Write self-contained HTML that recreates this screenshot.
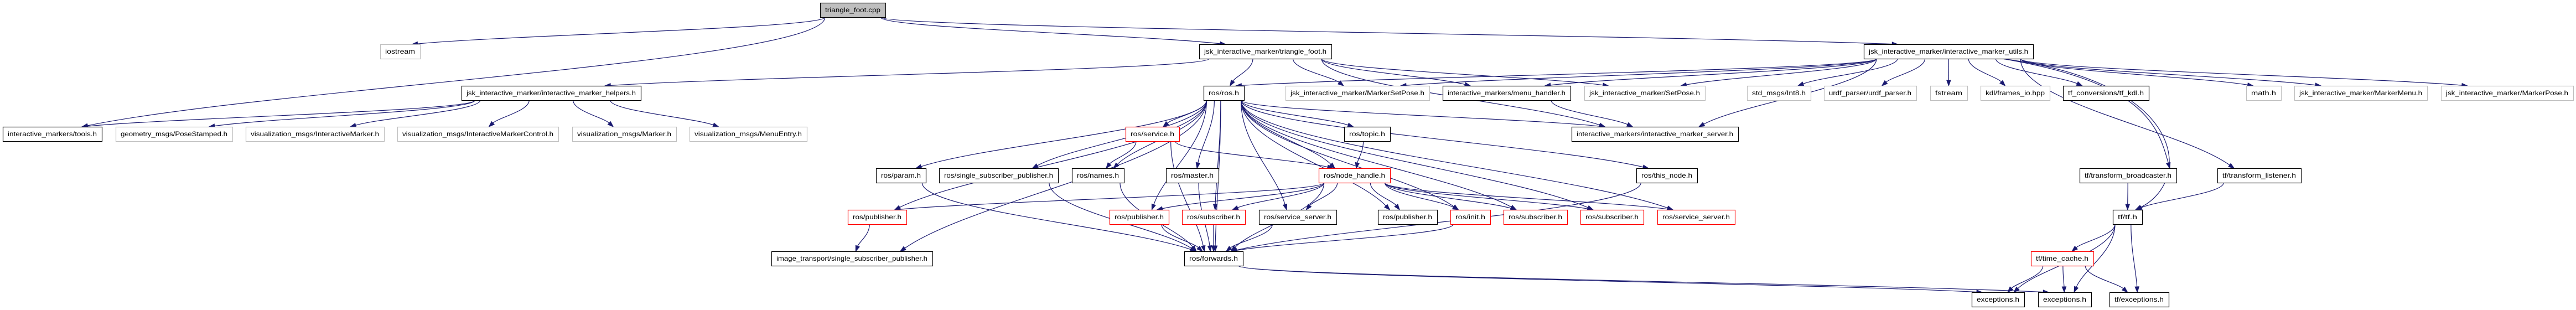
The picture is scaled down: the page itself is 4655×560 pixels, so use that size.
<!DOCTYPE html>
<html><head><meta charset="utf-8"><style>
html,body{margin:0;padding:0;background:#fff;}
svg{display:block;}
text{font-family:"Liberation Sans",Arial,sans-serif;font-size:12px;fill:#000;}
</style></head><body>
<svg id="g" width="4655" height="560" xmlns="http://www.w3.org/2000/svg">
<g id="edges" fill="none" stroke="#191970" stroke-width="1.2"></g>
<g id="heads" fill="#191970" stroke="#191970"></g>
<g id="nodes"></g>
</svg>
<script>
var R=[5,80,155,229,304,379,454,528],H=26;
var N={
cpp:[1482,1600,0,"triangle_foot.cpp","f"],
ios:[687,759,1,"iostream","g"],
tfh:[2167,2406,1,"jsk_interactive_marker/triangle_foot.h","b"],
utl:[3368,3674,1,"jsk_interactive_marker/interactive_marker_utils.h","b"],
hlp:[834,1158,2,"jsk_interactive_marker/interactive_marker_helpers.h","b"],
ros:[2175,2248,2,"ros/ros.h","b"],
msp:[2323,2583,2,"jsk_interactive_marker/MarkerSetPose.h","g"],
mnu:[2607,2838,2,"interactive_markers/menu_handler.h","b"],
stp:[2863,3081,2,"jsk_interactive_marker/SetPose.h","g"],
i8:[3157,3272,2,"std_msgs/Int8.h","g"],
urd:[3296,3463,2,"urdf_parser/urdf_parser.h","g"],
fst:[3488,3555,2,"fstream","g"],
kdl:[3579,3704,2,"kdl/frames_io.hpp","g"],
tkd:[3728,3883,2,"tf_conversions/tf_kdl.h","b"],
mth:[4059,4122,2,"math.h","g"],
mmn:[4146,4386,2,"jsk_interactive_marker/MarkerMenu.h","g"],
mps:[4411,4650,2,"jsk_interactive_marker/MarkerPose.h","g"],
tls:[5,184,3,"interactive_markers/tools.h","b"],
pst:[209,420,3,"geometry_msgs/PoseStamped.h","g"],
vim:[444,694,3,"visualization_msgs/InteractiveMarker.h","g"],
vic:[718,1009,3,"visualization_msgs/InteractiveMarkerControl.h","g"],
vmk:[1034,1222,3,"visualization_msgs/Marker.h","g"],
vme:[1246,1458,3,"visualization_msgs/MenuEntry.h","g"],
srv:[2034,2131,3,"ros/service.h","r"],
top:[2429,2512,3,"ros/topic.h","b"],
ims:[2840,3141,3,"interactive_markers/interactive_marker_server.h","b"],
prm:[1583,1673,4,"ros/param.h","b"],
ssp:[1697,1912,4,"ros/single_subscriber_publisher.h","b"],
nam:[1937,2031,4,"ros/names.h","b"],
mas:[2107,2202,4,"ros/master.h","b"],
nh:[2383,2512,4,"ros/node_handle.h","r"],
thn:[2957,3067,4,"ros/this_node.h","b"],
tbc:[3758,3933,4,"tf/transform_broadcaster.h","b"],
tli:[4007,4158,4,"tf/transform_listener.h","b"],
pb1:[1532,1638,5,"ros/publisher.h","r"],
pb2:[2005,2112,5,"ros/publisher.h","r"],
sb1:[2136,2250,5,"ros/subscriber.h","r"],
ss1:[2275,2415,5,"ros/service_server.h","b"],
pb3:[2490,2597,5,"ros/publisher.h","b"],
ini:[2621,2693,5,"ros/init.h","r"],
sb2:[2717,2832,5,"ros/subscriber.h","r"],
sb3:[2856,2970,5,"ros/subscriber.h","r"],
ss2:[2995,3135,5,"ros/service_server.h","r"],
tf:[3818,3871,5,"tf/tf.h","b"],
its:[1394,1685,6,"image_transport/single_subscriber_publisher.h","b"],
fwd:[2140,2246,6,"ros/forwards.h","b"],
tc:[3670,3783,6,"tf/time_cache.h","r"],
ex1:[3563,3658,7,"exceptions.h","b"],
ex2:[3683,3779,7,"exceptions.h","b"],
tex:[3812,3919,7,"tf/exceptions.h","b"]
};
var E=[
["cpp","ios"],["cpp","tls"],["cpp","tfh"],["cpp","utl"],
["tfh","ros"],["tfh","hlp"],["tfh","mnu"],["tfh","stp"],["tfh","msp"],["tfh","ims"],
["utl","ros"],["utl","msp"],["utl","mnu"],["utl","stp"],["utl","ims"],["utl","i8"],["utl","urd"],["utl","fst"],["utl","kdl"],["utl","tkd"],
["utl","tbc",[3880,150],[3900,230]],["utl","tf",[3960,150],[3960,330]],
["utl","tli"],["utl","mth"],["utl","mmn"],["utl","mps"],
["hlp","tls"],["hlp","pst"],["hlp","vim"],["hlp","vic"],["hlp","vmk"],["hlp","vme"],
["ros","prm"],["ros","ssp"],["ros","nam"],["ros","srv"],["ros","mas"],["ros","nh"],["ros","pb2"],["ros","sb1"],["ros","ss1"],["ros","top"],["ros","pb3"],["ros","ini"],["ros","sb2"],["ros","sb3"],["ros","ss2"],["ros","thn"],["ros","ims"],["ros","fwd"],["ros","pb1"],["ros","its"],
["srv","nam"],["srv","nh"],["srv","fwd"],
["nh","pb1"],["nh","pb2"],["nh","sb1"],["nh","ss1"],["nh","fwd"],["nh","pb3"],["nh","ini"],["nh","sb2"],["nh","sb3"],["nh","ss2"],
["top","nh"],["mnu","ims"],
["prm","fwd"],["ssp","fwd"],["nam","fwd"],["mas","fwd"],["pb2","fwd"],["sb1","fwd"],["ss1","fwd"],["ini","fwd"],["thn","fwd"],
["pb1","its"],
["fwd","ex1"],["fwd","ex2"],
["tbc","tf"],["tli","tf"],
["tf","tc"],["tf","ex1"],["tf","ex2"],["tf","tex"],
["tc","ex1"],["tc","ex2"],["tc","tex"]
];
var ns="http://www.w3.org/2000/svg";
function el(t,a,p){var e=document.createElementNS(ns,t);for(var k in a)e.setAttribute(k,a[k]);p.appendChild(e);return e;}
var ge=document.getElementById("edges"),gh=document.getElementById("heads"),gn=document.getElementById("nodes");
function cl(v,a,b){return Math.max(a,Math.min(b,v));}
E.forEach(function(e){
 var s=N[e[0]],t=N[e[1]];
 var scx=(s[0]+s[1])/2,tcx=(t[0]+t[1])/2,shw=(s[1]-s[0])/2,thw=(t[1]-t[0])/2;
 var sx=scx+cl((tcx-scx)*0.3,-shw*0.85,shw*0.85);
 var tx=tcx+cl((scx-tcx)*0.15,-thw*0.6,thw*0.6);
 var sy=R[s[2]]+H,ty=R[t[2]];
 var dy=ty-sy;
 var c1x=sx,c1y=sy+dy*0.4,c2x=tx+(sx-tx)*0.25,c2y=ty-dy*0.35;
 if(e[2]){c1x=e[2][0];c1y=e[2][1];c2x=e[3][0];c2y=e[3][1];tx=t[1]-12;}
 var ax=tx-c2x,ay=ty-c2y,l=Math.sqrt(ax*ax+ay*ay);ax/=l;ay/=l;
 var L=10,W=3.6;
 var bx=tx-ax*L,by=ty-ay*L;
 el("path",{d:"M"+sx+","+sy+" C"+c1x+","+c1y+" "+c2x+","+c2y+" "+bx+","+by},ge);
 el("polygon",{points:tx+","+ty+" "+(bx-ay*W)+","+(by+ax*W)+" "+(bx+ay*W)+","+(by-ax*W)},gh);
});
for(var k in N){
 var n=N[k],y=R[n[2]],w=n[1]-n[0];
 var st={b:["#fff","#000"],g:["#fff","#bfbfbf"],r:["#fff","#ff0000"],f:["#bfbfbf","#000"]}[n[4]];
 el("rect",{x:n[0]+0.5,y:y+0.5,width:w,height:H,fill:st[0],stroke:st[1],"stroke-width":1.2},gn);
 var t=el("text",{x:n[0]+w/2,y:y+17,"text-anchor":"middle",textLength:w-18,lengthAdjust:"spacingAndGlyphs"},gn);
 t.textContent=n[3];
}
</script>
</body></html>
